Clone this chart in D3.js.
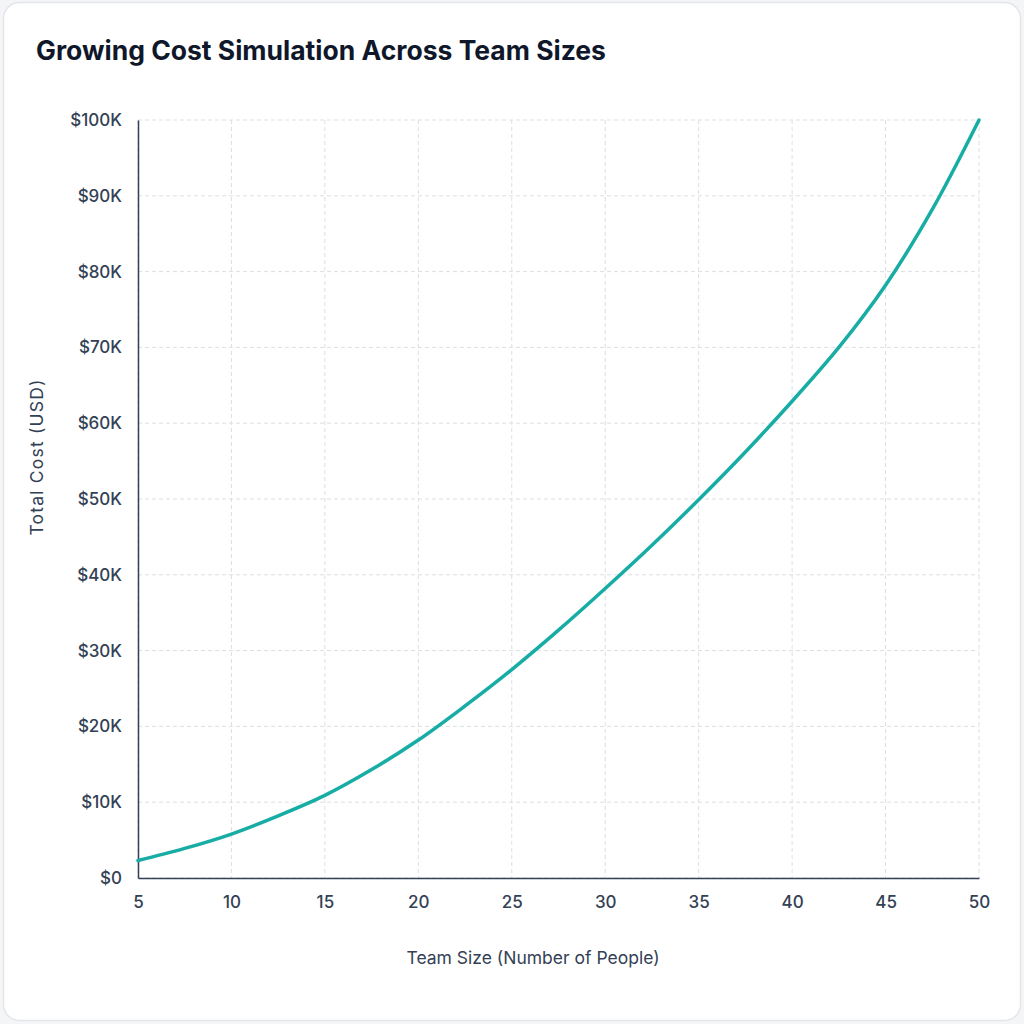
<!DOCTYPE html>
<html>
<head>
<meta charset="utf-8">
<script src="https://cdn.jsdelivr.net/npm/d3@7"></script>
<style>
  body { margin: 0; background: #f4f5f7; }
  svg { display: block; font-family: Inter, "Noto Sans", sans-serif; }
</style>
</head>
<body>
<div id="chart"></div>
<script>
// team size (people) and total cost (USD)
var teamSizes = [5, 7.5, 10, 12.5, 15, 17.5, 20, 22.5, 25, 27.5, 30, 32.5, 35, 37.5, 40, 42.5, 45, 47.5, 50];
var totalCost = [2300, 3900, 5800, 8200, 10900, 14300, 18200, 22700, 27500, 32700, 38200, 43900, 49900, 56200, 62900, 70000, 78200, 88200, 100000];
var xTicks = [5, 10, 15, 20, 25, 30, 35, 40, 45, 50];
var yTicks = [0, 10000, 20000, 30000, 40000, 50000, 60000, 70000, 80000, 90000, 100000];

function drawChart() {
  var width = 1024, height = 1024;
  var margin = {top: 120, right: 45, bottom: 146, left: 138};

  var svg = d3.select("#chart").append("svg")
    .attr("width", width)
    .attr("height", height);

  // card
  svg.append("rect")
    .attr("x", 3.5).attr("y", 2.5)
    .attr("width", 1017).attr("height", 1018)
    .attr("rx", 16)
    .attr("fill", "#ffffff")
    .attr("stroke", "#e3e5e8")
    .attr("stroke-width", 1.5);

  svg.append("text")
    .attr("x", 36).attr("y", 60)
    .attr("font-size", 26.5)
    .attr("font-weight", 700)
    .attr("fill", "#0f172a")
    .text("Growing Cost Simulation Across Team Sizes");

  var x = d3.scaleLinear()
    .domain([5, 50])
    .range([margin.left, width - margin.right]);

  var y = d3.scaleLinear()
    .domain([0, 100000])
    .range([height - margin.bottom, margin.top]);

  // grid
  svg.append("g")
    .selectAll("line")
    .data(yTicks)
    .enter().append("line")
    .attr("x1", margin.left).attr("x2", width - margin.right)
    .attr("y1", d => y(d)).attr("y2", d => y(d))
    .attr("stroke", "#dcdfe3")
    .attr("stroke-width", 1)
    .attr("stroke-dasharray", "4,3");

  svg.append("g")
    .selectAll("line")
    .data(xTicks)
    .enter().append("line")
    .attr("x1", d => x(d)).attr("x2", d => x(d))
    .attr("y1", margin.top).attr("y2", height - margin.bottom)
    .attr("stroke", "#dcdfe3")
    .attr("stroke-width", 1)
    .attr("stroke-dasharray", "4,3");

  // axes
  var xAxis = svg.append("g")
    .attr("transform", `translate(0,${height - margin.bottom})`)
    .call(d3.axisBottom(x).tickValues(xTicks).tickSize(0).tickPadding(18).tickFormat(d3.format("d")));

  var yAxis = svg.append("g")
    .attr("transform", `translate(${margin.left},0)`)
    .call(d3.axisLeft(y).tickValues(yTicks).tickSize(0).tickPadding(16)
      .tickFormat(d => d == 0 ? "$0" : "$" + (d / 1000) + "K"));

  [xAxis, yAxis].forEach(function(g) {
    g.select(".domain").attr("stroke", "#334155").attr("stroke-width", 1.5);
    g.selectAll("text")
      .attr("font-size", 17)
      .attr("font-weight", 500)
      .attr("font-family", "Inter, 'Noto Sans', sans-serif")
      .attr("fill", "#334155");
  });

  svg.append("text")
    .attr("x", 533).attr("y", 964)
    .attr("text-anchor", "middle")
    .attr("font-size", 17.5)
    .attr("fill", "#334155")
    .text("Team Size (Number of People)");

  svg.append("text")
    .attr("transform", "translate(43,457) rotate(-90)")
    .attr("text-anchor", "middle")
    .attr("font-size", 17.5)
    .attr("letter-spacing", 1.2)
    .attr("fill", "#334155")
    .text("Total Cost (USD)");

  // cost curve
  var line = d3.line()
    .x((d, i) => x(teamSizes[i]))
    .y(d => y(d))
    .curve(d3.curveCatmullRom);

  svg.append("path")
    .datum(totalCost)
    .attr("d", line)
    .attr("fill", "none")
    .attr("stroke", "#17ada5")
    .attr("stroke-width", 3.5)
    .attr("stroke-linecap", "round")
    .attr("stroke-linejoin", "round");
}

window.onload = drawChart;
</script>
</body>
</html>
